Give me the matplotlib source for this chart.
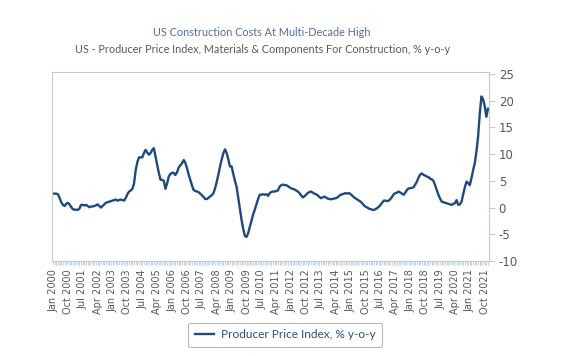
import numpy as np
import pandas as pd
import matplotlib
matplotlib.use("Agg")
import matplotlib.pyplot as plt
from matplotlib.ticker import FixedLocator

# PPI materials & components for construction, % y-o-y, monthly, Jan 2000 - Dec 2021
y2000 = [2.6, 2.6, 2.6, 2.5, 1.8, 1.0, 0.5, 0.3, 0.7, 0.9, 0.6, 0.1]
y2001 = [-0.3, -0.4, -0.4, -0.45, -0.2, 0.5, 0.5, 0.4, 0.5, 0.3, 0.05, 0.2]
y2002 = [0.2, 0.3, 0.4, 0.6, 0.3, 0.0, 0.3, 0.6, 0.9, 1.0, 1.1, 1.2]
y2003 = [1.3, 1.4, 1.5, 1.3, 1.4, 1.5, 1.4, 1.3, 1.8, 2.5, 3.0, 3.2]
y2004 = [3.5, 4.5, 7.0, 8.5, 9.4, 9.4, 9.4, 10.2, 10.8, 10.3, 9.9, 10.2]
y2005 = [10.8, 11.1, 9.5, 8.0, 6.5, 5.2, 5.2, 5.0, 3.5, 4.5, 5.8, 6.3]
y2006 = [6.5, 6.5, 6.1, 6.6, 7.5, 7.9, 8.3, 8.9, 8.4, 7.4, 6.2, 5.2]
y2007 = [4.2, 3.3, 3.1, 3.0, 2.9, 2.6, 2.3, 2.0, 1.6, 1.6, 1.8, 2.1]
y2008 = [2.3, 2.7, 3.6, 4.8, 6.2, 7.7, 9.0, 10.2, 10.9, 10.2, 9.0, 7.7]
y2009 = [7.7, 6.3, 5.0, 3.9, 1.8, -0.3, -2.3, -4.0, -5.3, -5.5, -4.8, -3.6]
y2010 = [-2.5, -1.3, -0.4, 0.6, 1.6, 2.4, 2.4, 2.5, 2.4, 2.5, 2.2, 2.7]
y2011 = [2.9, 3.0, 3.0, 3.1, 3.2, 3.9, 4.2, 4.3, 4.2, 4.2, 4.0, 3.8]
y2012 = [3.6, 3.5, 3.4, 3.2, 3.0, 2.7, 2.3, 1.9, 2.1, 2.4, 2.7, 2.9]
y2013 = [3.0, 2.8, 2.6, 2.5, 2.3, 2.0, 1.75, 1.9, 2.05, 1.9, 1.7, 1.6]
y2014 = [1.55, 1.6, 1.7, 1.75, 1.9, 2.2, 2.4, 2.5, 2.6, 2.7, 2.6, 2.7]
y2015 = [2.5, 2.2, 1.9, 1.7, 1.5, 1.3, 1.1, 0.8, 0.4, 0.15, 0.0, -0.2]
y2016 = [-0.3, -0.4, -0.45, -0.3, -0.1, 0.15, 0.5, 0.9, 1.3, 1.3, 1.2, 1.3]
y2017 = [1.6, 2.0, 2.5, 2.7, 2.8, 3.0, 2.8, 2.6, 2.4, 2.8, 3.3, 3.6]
y2018 = [3.6, 3.7, 3.8, 4.3, 4.85, 5.6, 6.2, 6.4, 6.1, 6.0, 5.8, 5.7]
y2019 = [5.4, 5.3, 5.0, 4.2, 3.3, 2.4, 1.7, 1.1, 1.0, 0.9, 0.8, 0.7]
y2020 = [0.6, 0.5, 0.7, 0.8, 1.4, 0.5, 0.6, 1.1, 2.5, 3.8, 4.85, 4.6]
y2021 = [4.2, 5.5, 7.0, 8.3, 10.5, 13.3, 17.5, 20.8, 20.3, 19.0, 17.0, 18.5]

ppi = (y2000 + y2001 + y2002 + y2003 + y2004 + y2005 + y2006 + y2007 + y2008
       + y2009 + y2010 + y2011 + y2012 + y2013 + y2014 + y2015 + y2016 + y2017
       + y2018 + y2019 + y2020 + y2021)
dates = pd.date_range("2000-01-01", periods=len(ppi), freq="MS")
yticks = [-10, -5, 0, 5, 10, 15, 20, 25]

line_col = "#1f4a7c"
axis_col = "#b8cce4"
text_col = "#595959"
title_col = "#4f6f9f"

fig = plt.figure(figsize=(5.65, 3.56), dpi=100)
ax = fig.add_axes([0.092, 0.267, 0.7735, 0.531])

x = np.arange(len(ppi))
ax.plot(x, ppi, color=line_col, lw=1.7, label="Producer Price Index, % y-o-y")

ax.set_xlim(-0.6, len(ppi) - 0.4)
ax.set_ylim(-10, 25.4)

# y axis on the right
ax.yaxis.tick_right()
ax.set_yticks(yticks)
ax.set_yticklabels([str(v) for v in yticks])
ax.tick_params(axis="y", colors=axis_col, labelcolor=text_col, labelsize=8.5,
               length=4, width=0.8, pad=3)

# x axis: label every 9 months, tick every month
major = list(range(0, len(ppi), 9))
ax.xaxis.set_major_locator(FixedLocator(major))
ax.set_xticklabels([dates[i].strftime("%b %Y") for i in major], rotation=90,
                   fontsize=7, color=text_col, family="DejaVu Sans")
ax.xaxis.set_minor_locator(FixedLocator(list(range(len(ppi)))))
ax.tick_params(axis="x", which="both", colors=axis_col, labelcolor=text_col,
               length=3, width=0.6, pad=3)

for side in ["left", "top"]:
    ax.spines[side].set_color("#c8c8c8")
    ax.spines[side].set_linewidth(0.8)
for side in ["right", "bottom"]:
    ax.spines[side].set_color(axis_col)
    ax.spines[side].set_linewidth(0.8)

fig.text(0.464, 0.91, "US Construction Costs At Multi-Decade High",
         ha="center", va="center", fontsize=7.8, color=title_col, family="Lato")
fig.text(0.464, 0.86, "US - Producer Price Index, Materials & Components For Construction, % y-o-y",
         ha="center", va="center", fontsize=7.8, color=text_col, family="Lato")

leg = fig.legend(loc="center", bbox_to_anchor=(0.505, 0.059), frameon=True,
                 fancybox=True, prop={"family": "Lato", "size": 8.6},
                 handlelength=1.6, borderpad=0.55, handletextpad=0.6)
leg.get_frame().set_edgecolor("#a6a6a6")
leg.get_frame().set_linewidth(0.8)
for t in leg.get_texts():
    t.set_color("#2f4f7a")

fig.savefig("out.png", dpi=100)
